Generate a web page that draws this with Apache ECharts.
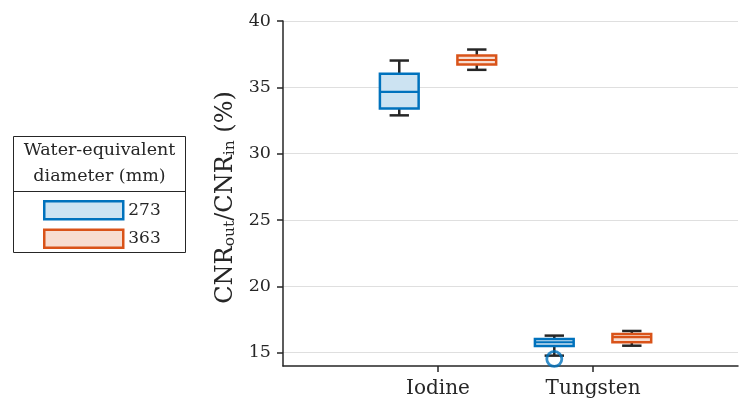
<!DOCTYPE html>
<html>
<head>
<meta charset="utf-8">
<script src="https://cdn.jsdelivr.net/npm/echarts@6/dist/echarts.min.js"></script>
<style>html,body{margin:0;padding:0;background:#fff;}#c{width:739px;height:405px;}</style>
</head>
<body>
<div id="c"></div>
<script>
// ---- data ----
const categories = ['Iodine', 'Tungsten'];
const groupNames = ['273', '363'];
// [lower whisker, Q1, median, Q3, upper whisker] per category
const box273 = [[32.89, 33.40, 34.66, 36.02, 37.02], [14.78, 15.51, 15.79, 16.04, 16.29]];
const box363 = [[36.32, 36.72, 37.06, 37.40, 37.85], [15.53, 15.79, 16.17, 16.42, 16.64]];
// outliers: [category index, value]
const outliers273 = [[1, 14.53]];
const outliers363 = [];
const yTicks = [15, 20, 25, 30, 35, 40];
const xTicks = [1, 2];
const yMin = 14, yMax = 40;
const xMin = 0, xMax = 2.935;

// ---- style ----
const FONT = 'DejaVu Serif';
const INK = '#262626';
const BLUE = '#0072BD', BLUE_FILL = '#CCE3F2';
const ORANGE = '#D95319', ORANGE_FILL = '#F7DDD1';
const OFFSET = 0.25, BOXW = 0.25, CAPW = 0.125;

function boxData(stats, off) {
  return stats.map((s, i) => [i + 1 + off].concat(s));
}
function outlierData(list, off) {
  return list.map(o => [o[0] + 1 + off, o[1]]);
}
function makeRender(stroke, fill) {
  return function (params, api) {
    const x = api.value(0);
    const lo = api.value(1), q1 = api.value(2), med = api.value(3), q3 = api.value(4), hi = api.value(5);
    const p = (xx, yy) => api.coord([xx, yy]);
    const bl = p(x - BOXW / 2, q1), tr = p(x + BOXW / 2, q3);
    const cTop = p(x, hi), cBot = p(x, lo), bTop = p(x, q3), bBot = p(x, q1);
    const capL = p(x - CAPW / 2, hi)[0], capR = p(x + CAPW / 2, hi)[0];
    const ml = p(x - BOXW / 2, med), mr = p(x + BOXW / 2, med);
    const ws = { stroke: INK, lineWidth: 2.5 };
    return {
      type: 'group',
      children: [
        { type: 'line', shape: { x1: cTop[0], y1: cTop[1], x2: bTop[0], y2: bTop[1] }, style: ws },
        { type: 'line', shape: { x1: cBot[0], y1: cBot[1], x2: bBot[0], y2: bBot[1] }, style: ws },
        { type: 'line', shape: { x1: capL, y1: cTop[1], x2: capR, y2: cTop[1] }, style: ws },
        { type: 'line', shape: { x1: capL, y1: cBot[1], x2: capR, y2: cBot[1] }, style: ws },
        { type: 'rect', shape: { x: bl[0], y: tr[1], width: tr[0] - bl[0], height: bl[1] - tr[1] },
          style: { fill: fill, stroke: stroke, lineWidth: 2.5 } },
        { type: 'line', shape: { x1: ml[0], y1: ml[1], x2: mr[0], y2: mr[1] }, style: { stroke: stroke, lineWidth: 2.2 } }
      ]
    };
  };
}

const chart = echarts.init(document.getElementById('c'), null, { renderer: 'canvas' });
chart.setOption({
  backgroundColor: '#fff',
  animation: false,
  grid: { left: 283, top: 21, right: 1, bottom: 39, containLabel: false },
  xAxis: {
    type: 'value', min: xMin, max: xMax,
    axisLine: { show: true, lineStyle: { color: INK, width: 1.5 } },
    axisTick: { show: true, customValues: xTicks, length: 6, lineStyle: { color: INK, width: 1.5 } },
    axisLabel: { customValues: xTicks, formatter: v => categories[Math.round(v) - 1] || '',
      fontFamily: FONT, fontSize: 20, color: INK, margin: 13 },
    splitLine: { show: false }
  },
  yAxis: {
    type: 'value', min: yMin, max: yMax,
    axisLine: { show: true, lineStyle: { color: INK, width: 1.5 } },
    axisTick: { show: true, customValues: yTicks, length: 6, lineStyle: { color: INK, width: 1.5 } },
    axisLabel: { customValues: yTicks, fontFamily: FONT, fontSize: 17.5, color: INK, margin: 12 },
    splitLine: { show: true, lineStyle: { color: '#dfdfdf', width: 1 } },
    name: '{a|CNR}{s|out}{a|/CNR}{s|in}{a| (%)}',
    nameLocation: 'middle',
    nameGap: 45,
    nameRotate: 90,
    nameTextStyle: {
      color: INK,
      padding: [0, 8, 0, 0],
      rich: {
        a: { fontFamily: FONT, fontSize: 24, color: INK, lineHeight: 28, verticalAlign: 'bottom' },
        s: { fontFamily: FONT, fontSize: 15.5, color: INK, lineHeight: 15, padding: [15, 0, 0, 0], verticalAlign: 'bottom' }
      }
    }
  },
  legend: {
    orient: 'vertical', left: 43, top: 200, padding: 0,
    itemWidth: 79, itemHeight: 18, itemGap: 8,
    icon: 'rect',
    selectedMode: false,
    textStyle: { fontFamily: FONT, fontSize: 17, color: INK },
    data: [
      { name: groupNames[0], itemStyle: { color: BLUE_FILL, borderColor: BLUE, borderWidth: 2.5 } },
      { name: groupNames[1], itemStyle: { color: ORANGE_FILL, borderColor: ORANGE, borderWidth: 2.5 } }
    ]
  },
  graphic: [
    { type: 'rect', z: 0, shape: { x: 13.5, y: 136.5, width: 172, height: 116 },
      style: { fill: '#fff', stroke: INK, lineWidth: 1 } },
    { type: 'line', z: 0, shape: { x1: 13.5, y1: 191.5, x2: 185.5, y2: 191.5 },
      style: { stroke: INK, lineWidth: 1 } },
    { type: 'text', z: 1, x: 99.5, y: 150, style: { text: 'Water-equivalent', fontFamily: FONT, fontSize: 17.5,
      fill: INK, align: 'center', verticalAlign: 'middle' } },
    { type: 'text', z: 1, x: 99.5, y: 176.5, style: { text: 'diameter (mm)', fontFamily: FONT, fontSize: 17.5,
      fill: INK, align: 'center', verticalAlign: 'middle' } }
  ],
  series: [
    { name: groupNames[0], type: 'custom', data: boxData(box273, -OFFSET),
      encode: { x: 0, y: [1, 2, 3, 4, 5] }, itemStyle: { color: BLUE_FILL }, renderItem: makeRender(BLUE, BLUE_FILL) },
    { name: groupNames[1], type: 'custom', data: boxData(box363, OFFSET),
      encode: { x: 0, y: [1, 2, 3, 4, 5] }, itemStyle: { color: ORANGE_FILL }, renderItem: makeRender(ORANGE, ORANGE_FILL) },
    { name: 'out273', type: 'scatter', data: outlierData(outliers273, -OFFSET), symbol: 'circle', symbolSize: 15,
      itemStyle: { color: 'rgba(0,0,0,0)', borderColor: BLUE, borderWidth: 2.8 }, z: 5 },
    { name: 'out363', type: 'scatter', data: outlierData(outliers363, OFFSET), symbol: 'circle', symbolSize: 15,
      itemStyle: { color: 'rgba(0,0,0,0)', borderColor: ORANGE, borderWidth: 2.8 }, z: 5 }
  ]
});
</script>
</body>
</html>
